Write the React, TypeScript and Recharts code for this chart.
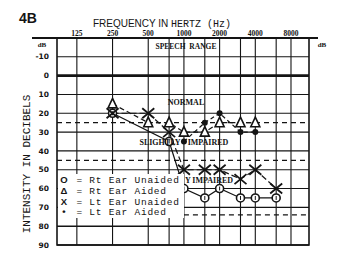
import {
  ComposedChart,
  Line,
  XAxis,
  YAxis,
  ReferenceLine,
  ReferenceArea,
} from "recharts";

const frequencies = [250, 500, 750, 1000, 1500, 2000, 3000, 4000, 6000];
const rtEarUnaided = [20, null, 35, 60, 65, 60, 65, 65, 65];
const rtEarAided = [15, 25, 25, 30, 30, 25, 25, 25, null];
const ltEarUnaided = [20, 20, 30, 50, 50, 50, 55, 50, 60];
const ltEarAided = [null, null, null, 35, 25, 20, 30, 30, null];

const freqTicks = [125, 250, 500, 1000, 2000, 4000, 8000];
const gridFreqs = [125, 250, 500, 750, 1000, 1500, 2000, 3000, 4000, 6000, 8000];
const dbTicks = [-10, 0, 10, 20, 30, 40, 50, 60, 70, 80, 90];
const dashedLevels = [25, 45];

const FREQ_DOMAIN = [85, 11350];
const DB_DOMAIN = [-20, 90];
const INK = "#141414";

const data = frequencies.map((freq, i) => ({
  freq,
  rtUnaided: rtEarUnaided[i],
  rtAided: rtEarAided[i],
  ltUnaided: ltEarUnaided[i],
  ltAided: ltEarAided[i],
}));

type Kind = "circle" | "triangle" | "cross" | "dot";

function makeDot(kind: Kind) {
  return (props: any) => {
    const { cx, cy, index, value } = props;
    const key = `${kind}-${index}`;
    if (value == null || cx == null || cy == null) return <g key={key} />;
    if (kind === "circle")
      return (
        <g key={key}>
          <circle cx={cx} cy={cy} r={4} fill="#fff" stroke={INK} strokeWidth={1.6} />
          <line x1={cx} y1={cy - 2} x2={cx} y2={cy + 2} stroke={INK} strokeWidth={1} />
        </g>
      );
    if (kind === "triangle")
      return (
        <path
          key={key}
          d={`M${cx},${cy - 5.5} L${cx + 4.5},${cy + 4} L${cx - 4.5},${cy + 4} Z`}
          fill="#fff"
          stroke={INK}
          strokeWidth={1.6}
        />
      );
    if (kind === "cross")
      return (
        <g key={key} stroke={INK} strokeWidth={1.8}>
          <line x1={cx - 6} y1={cy - 5} x2={cx + 6} y2={cy + 5} />
          <line x1={cx - 6} y1={cy + 5} x2={cx + 6} y2={cy - 5} />
        </g>
      );
    return <circle key={key} cx={cx} cy={cy} r={3} fill={INK} />;
  };
}

function Text({ x, y, children, style }: any) {
  return (
    <div
      style={{
        position: "absolute",
        left: x,
        top: y,
        transform: "translate(-50%, -50%)",
        whiteSpace: "nowrap",
        color: INK,
        lineHeight: 1,
        ...style,
      }}
    >
      {children}
    </div>
  );
}

const serifCaps = {
  fontFamily: "Liberation Serif",
  fontWeight: 700,
  fontSize: 8,
};

const legendRows = [
  { symbol: "O", label: "Rt Ear Unaided" },
  { symbol: "Δ", label: "Rt Ear Aided" },
  { symbol: "X", label: "Lt Ear Unaided" },
  { symbol: "•", label: "Lt Ear Aided" },
];

export default function App() {
  const tickStyle = {
    fontSize: 7.5,
    fontWeight: 700,
    fontFamily: "DejaVu Sans",
    fill: INK,
  };
  return (
    <div
      style={{
        position: "absolute",
        left: 0,
        top: 0,
        width: 360,
        height: 270,
        background: "#fff",
        overflow: "hidden",
      }}
    >
      <ComposedChart
        width={360}
        height={270}
        data={data}
        margin={{ top: 0, right: 0, bottom: 25, left: 0 }}
      >
        <XAxis
          type="number"
          dataKey="freq"
          scale="log"
          domain={FREQ_DOMAIN}
          allowDataOverflow
          orientation="top"
          ticks={freqTicks}
          interval={0}
          height={38}
          tickSize={0}
          tickMargin={2}
          axisLine={false}
          tick={{ fontSize: 7.5, fontFamily: "Liberation Serif", fontWeight: 700, fill: INK }}
        />
        <YAxis
          yAxisId="left"
          type="number"
          domain={DB_DOMAIN}
          reversed
          ticks={dbTicks}
          interval={0}
          width={57}
          tickSize={0}
          tickMargin={8}
          axisLine={false}
          tick={tickStyle}
        />
        <YAxis
          yAxisId="right"
          orientation="right"
          type="number"
          domain={DB_DOMAIN}
          reversed
          ticks={dbTicks}
          interval={0}
          width={51}
          tickSize={0}
          tickMargin={9}
          axisLine={false}
          tick={{ ...tickStyle, textAnchor: "start" }}
        />

        {gridFreqs.map((f) => (
          <ReferenceLine key={`v-${f}`} yAxisId="left" x={f} stroke={INK} strokeWidth={1.1} />
        ))}
        {dbTicks.map((d) => (
          <ReferenceLine
            key={`h-${d}`}
            yAxisId="left"
            y={d}
            stroke={INK}
            strokeWidth={d === 0 ? 2.8 : d >= 80 ? 1.5 : 1.1}
          />
        ))}
        {dashedLevels.map((d) => (
          <ReferenceLine
            key={`d-${d}`}
            yAxisId="left"
            y={d}
            stroke={INK}
            strokeWidth={1.3}
            strokeDasharray="5 4"
          />
        ))}
        <ReferenceLine
          yAxisId="left"
          segment={[
            { x: 1000, y: 74 },
            { x: FREQ_DOMAIN[1], y: 74 },
          ]}
          stroke={INK}
          strokeWidth={1.3}
          strokeDasharray="5 4"
        />
        <ReferenceArea
          yAxisId="left"
          x1={FREQ_DOMAIN[0]}
          x2={FREQ_DOMAIN[1]}
          y1={DB_DOMAIN[0]}
          y2={DB_DOMAIN[1]}
          fill="none"
          stroke={INK}
          strokeWidth={1.6}
        />

        <Line
          yAxisId="left"
          dataKey="rtUnaided"
          stroke={INK}
          strokeWidth={1.2}
          connectNulls
          dot={makeDot("circle")}
          isAnimationActive={false}
        />
        <Line
          yAxisId="left"
          dataKey="ltUnaided"
          stroke={INK}
          strokeWidth={1.2}
          strokeDasharray="6 3"
          dot={makeDot("cross")}
          isAnimationActive={false}
        />
        <Line
          yAxisId="left"
          dataKey="rtAided"
          stroke={INK}
          strokeWidth={1.2}
          strokeDasharray="5 3"
          dot={makeDot("triangle")}
          isAnimationActive={false}
        />
        <Line
          yAxisId="left"
          dataKey="ltAided"
          stroke={INK}
          strokeWidth={1.2}
          strokeDasharray="4 3"
          connectNulls
          dot={makeDot("dot")}
          isAnimationActive={false}
        />
      </ComposedChart>

      {/* top rule extends past the grid */}
      <div
        style={{
          position: "absolute",
          left: 32,
          top: 37,
          width: 286,
          height: 2,
          background: INK,
        }}
      />

      <Text x={28} y={18} style={{ fontFamily: "Liberation Sans", fontWeight: 900, fontSize: 14 }}>
        4B
      </Text>
      <Text x={162} y={22}>
        <span style={{ fontFamily: "Liberation Sans", fontSize: 10 }}>FREQUENCY IN </span>
        <span style={{ fontFamily: "Liberation Mono", fontSize: 10 }}>HERTZ (Hz)</span>
      </Text>
      <Text x={42} y={45} style={{ ...serifCaps, fontSize: 7 }}>
        dB
      </Text>
      <Text x={322} y={45} style={{ ...serifCaps, fontSize: 7 }}>
        dB
      </Text>
      <Text x={186} y={47} style={{ ...serifCaps, fontSize: 7.5 }}>
        SPEECH&nbsp;&nbsp;RANGE
      </Text>
      <Text
        x={27}
        y={164}
        style={{
          fontFamily: "Liberation Mono",
          fontSize: 11,
          transform: "translate(-50%, -50%) rotate(-90deg)",
        }}
      >
        INTENSITY IN DECIBELS
      </Text>

      <Text x={186} y={103} style={serifCaps}>
        NORMAL
      </Text>
      <Text x={160} y={143} style={serifCaps}>
        SLIGHTLY
      </Text>
      <Text x={208} y={143} style={serifCaps}>
        IMPAIRED
      </Text>
      <Text x={209} y={181} style={serifCaps}>
        Y IMPAIRED
      </Text>

      {/* symbol key */}
      <div
        style={{
          position: "absolute",
          left: 58,
          top: 174,
          width: 126,
          height: 44,
          background: "#fff",
          paddingTop: 1,
          boxSizing: "border-box",
          fontFamily: "Liberation Mono",
          fontSize: 9.5,
          letterSpacing: 0.75,
          lineHeight: "10.8px",
          color: INK,
        }}
      >
        {legendRows.map((row) => (
          <div key={row.label} style={{ whiteSpace: "pre", height: 10.8 }}>
            <span
              style={{
                display: "inline-block",
                width: 12,
                textAlign: "center",
                fontFamily: "Liberation Sans",
                fontWeight: 700,
                fontSize: 9.5,
                letterSpacing: 0,
              }}
            >
              {row.symbol}
            </span>
            {" = " + row.label}
          </div>
        ))}
      </div>
    </div>
  );
}
